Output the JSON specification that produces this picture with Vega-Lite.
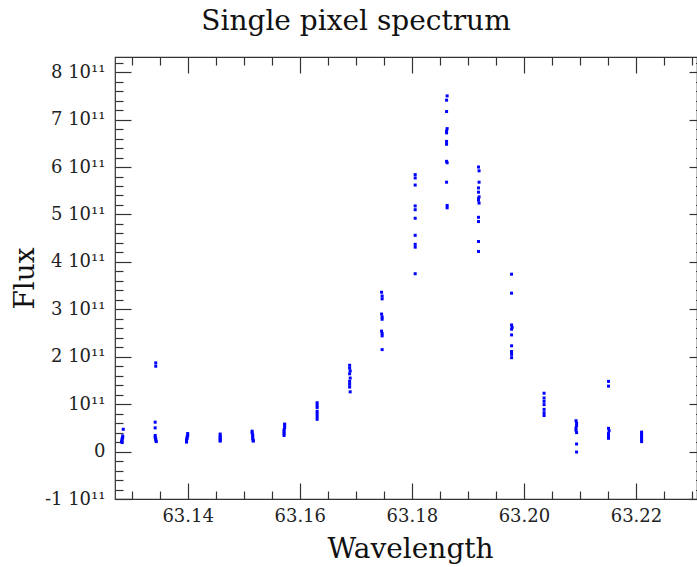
{
  "$schema": "https://vega.github.io/schema/vega-lite/v6.json",
  "width": 582,
  "height": 442,
  "autosize": {"type": "none"},
  "padding": {"left": 115, "top": 57, "right": 0, "bottom": 68},
  "background": "white",
  "title": {"text": "Single pixel spectrum", "fontSize": 28, "font": "DejaVu Serif", "fontWeight": "normal", "color": "#111", "anchor": "middle", "frame": "group", "dx": -50, "dy": 28, "offset": 26, "baseline": "alphabetic"},
  "config": {
    "view": {"stroke": "#333", "strokeWidth": 1.2},
    "font": "DejaVu Serif",
    "axis": {"grid": false, "domain": false, "tickColor": "#333", "tickWidth": 1.2, "labelColor": "#222", "titleColor": "#111", "labelFont": "DejaVu Serif", "titleFont": "DejaVu Serif", "labelFontSize": 18, "titleFontSize": 28, "titleFontWeight": "normal", "labelFlush": false}
  },
  "data": {"values": [
    {"w": 63.1285, "f": 4.7e10}, {"w": 63.1284, "f": 3.3e10}, {"w": 63.1284, "f": 3.0e10}, {"w": 63.1283, "f": 2.7e10}, {"w": 63.1283, "f": 2.4e10}, {"w": 63.1282, "f": 2.1e10}, {"w": 63.1283, "f": 1.9e10},
    {"w": 63.1343, "f": 1.87e11}, {"w": 63.1343, "f": 1.80e11}, {"w": 63.1342, "f": 6.2e10}, {"w": 63.1342, "f": 5.0e10}, {"w": 63.1342, "f": 3.4e10}, {"w": 63.1342, "f": 3.0e10}, {"w": 63.1343, "f": 2.7e10}, {"w": 63.1343, "f": 2.4e10}, {"w": 63.1344, "f": 2.1e10},
    {"w": 63.1400, "f": 3.8e10}, {"w": 63.1400, "f": 3.4e10}, {"w": 63.1399, "f": 3.1e10}, {"w": 63.1399, "f": 2.8e10}, {"w": 63.1398, "f": 2.5e10}, {"w": 63.1398, "f": 2.2e10}, {"w": 63.1398, "f": 2.0e10},
    {"w": 63.1458, "f": 3.7e10}, {"w": 63.1458, "f": 3.3e10}, {"w": 63.1458, "f": 3.0e10}, {"w": 63.1458, "f": 2.7e10}, {"w": 63.1458, "f": 2.4e10}, {"w": 63.1458, "f": 2.2e10},
    {"w": 63.1515, "f": 4.3e10}, {"w": 63.1515, "f": 3.9e10}, {"w": 63.1516, "f": 3.5e10}, {"w": 63.1516, "f": 3.1e10}, {"w": 63.1516, "f": 2.7e10}, {"w": 63.1517, "f": 2.4e10}, {"w": 63.1517, "f": 2.2e10},
    {"w": 63.1573, "f": 5.8e10}, {"w": 63.1573, "f": 5.5e10}, {"w": 63.1573, "f": 5.0e10}, {"w": 63.1572, "f": 4.6e10}, {"w": 63.1572, "f": 4.2e10}, {"w": 63.1572, "f": 3.8e10}, {"w": 63.1572, "f": 3.4e10},
    {"w": 63.1631, "f": 1.03e11}, {"w": 63.1631, "f": 9.8e10}, {"w": 63.1631, "f": 9.3e10}, {"w": 63.1631, "f": 8.5e10}, {"w": 63.1631, "f": 8.0e10}, {"w": 63.1631, "f": 7.4e10}, {"w": 63.1631, "f": 6.8e10},
    {"w": 63.1689, "f": 1.82e11}, {"w": 63.1689, "f": 1.76e11}, {"w": 63.1690, "f": 1.70e11}, {"w": 63.1689, "f": 1.64e11}, {"w": 63.1690, "f": 1.55e11}, {"w": 63.1689, "f": 1.48e11}, {"w": 63.1689, "f": 1.42e11}, {"w": 63.1689, "f": 1.36e11}, {"w": 63.1690, "f": 1.26e11},
    {"w": 63.1746, "f": 3.36e11}, {"w": 63.1747, "f": 3.28e11}, {"w": 63.1747, "f": 3.22e11}, {"w": 63.1746, "f": 2.90e11}, {"w": 63.1747, "f": 2.84e11}, {"w": 63.1747, "f": 2.79e11}, {"w": 63.1746, "f": 2.54e11}, {"w": 63.1747, "f": 2.49e11}, {"w": 63.1747, "f": 2.44e11}, {"w": 63.1747, "f": 2.15e11},
    {"w": 63.1806, "f": 5.84e11}, {"w": 63.1806, "f": 5.77e11}, {"w": 63.1806, "f": 5.62e11}, {"w": 63.1806, "f": 5.18e11}, {"w": 63.1806, "f": 5.10e11}, {"w": 63.1806, "f": 4.92e11}, {"w": 63.1806, "f": 4.56e11}, {"w": 63.1806, "f": 4.37e11}, {"w": 63.1806, "f": 4.31e11}, {"w": 63.1806, "f": 3.75e11},
    {"w": 63.1863, "f": 7.50e11}, {"w": 63.1862, "f": 7.41e11}, {"w": 63.1862, "f": 7.17e11}, {"w": 63.1863, "f": 6.81e11}, {"w": 63.1862, "f": 6.76e11}, {"w": 63.1862, "f": 6.72e11}, {"w": 63.1862, "f": 6.54e11}, {"w": 63.1862, "f": 6.48e11}, {"w": 63.1862, "f": 6.12e11}, {"w": 63.1863, "f": 6.09e11}, {"w": 63.1862, "f": 5.68e11}, {"w": 63.1863, "f": 5.19e11}, {"w": 63.1863, "f": 5.14e11},
    {"w": 63.1919, "f": 6.00e11}, {"w": 63.1920, "f": 5.92e11}, {"w": 63.1920, "f": 5.68e11}, {"w": 63.1919, "f": 5.56e11}, {"w": 63.1919, "f": 5.47e11}, {"w": 63.1920, "f": 5.37e11}, {"w": 63.1919, "f": 5.33e11}, {"w": 63.1919, "f": 5.30e11}, {"w": 63.1920, "f": 5.24e11}, {"w": 63.1919, "f": 4.94e11}, {"w": 63.1919, "f": 4.85e11}, {"w": 63.1919, "f": 4.43e11}, {"w": 63.1919, "f": 4.22e11},
    {"w": 63.1978, "f": 3.74e11}, {"w": 63.1978, "f": 3.34e11}, {"w": 63.1978, "f": 2.67e11}, {"w": 63.1979, "f": 2.62e11}, {"w": 63.1978, "f": 2.58e11}, {"w": 63.1978, "f": 2.46e11}, {"w": 63.1978, "f": 2.23e11}, {"w": 63.1978, "f": 2.11e11}, {"w": 63.1978, "f": 2.05e11}, {"w": 63.1978, "f": 1.98e11},
    {"w": 63.2036, "f": 1.23e11}, {"w": 63.2036, "f": 1.13e11}, {"w": 63.2036, "f": 1.06e11}, {"w": 63.2036, "f": 9.9e10}, {"w": 63.2036, "f": 8.9e10}, {"w": 63.2036, "f": 8.2e10}, {"w": 63.2036, "f": 7.6e10},
    {"w": 63.2093, "f": 6.5e10}, {"w": 63.2094, "f": 6.0e10}, {"w": 63.2094, "f": 5.5e10}, {"w": 63.2093, "f": 5.0e10}, {"w": 63.2093, "f": 4.5e10}, {"w": 63.2094, "f": 4.0e10}, {"w": 63.2094, "f": 1.6e10}, {"w": 63.2094, "f": -1.0e9},
    {"w": 63.2151, "f": 1.48e11}, {"w": 63.2151, "f": 1.38e11}, {"w": 63.2151, "f": 4.9e10}, {"w": 63.2152, "f": 4.4e10}, {"w": 63.2151, "f": 3.8e10}, {"w": 63.2151, "f": 3.3e10}, {"w": 63.2151, "f": 2.8e10},
    {"w": 63.2210, "f": 4.1e10}, {"w": 63.2210, "f": 3.7e10}, {"w": 63.2210, "f": 3.3e10}, {"w": 63.2210, "f": 2.9e10}, {"w": 63.2210, "f": 2.5e10}, {"w": 63.2210, "f": 2.1e10}
  ]},
  "resolve": {"axis": {"x": "independent", "y": "independent"}},
  "layer": [
    {
      "mark": {"type": "square", "size": 9, "filled": true, "color": "#0000ff", "opacity": 1, "strokeWidth": 0},
      "encoding": {
        "x": {"field": "w", "type": "quantitative", "scale": {"domain": [63.12703, 63.23089], "nice": false, "zero": false},
          "axis": {"orient": "bottom", "values": [63.14, 63.16, 63.18, 63.2, 63.22], "format": ".2f", "tickSize": -16, "labelPadding": 24, "title": "Wavelength", "titleX": 295, "titleY": 58, "titleBaseline": "alphabetic", "titleAlign": "center"}},
        "y": {"field": "f", "type": "quantitative", "scale": {"domain": [-1e11, 8.32e11], "nice": false, "zero": false},
          "axis": {"orient": "left", "values": [-1e11, 0, 1e11, 2e11, 3e11, 4e11, 5e11, 6e11, 7e11, 8e11], "labelExpr": "round(datum.value/1e11) == 0 ? '0' : (round(datum.value/1e11) == 1 ? '10¹¹' : round(datum.value/1e11) + ' 10¹¹')", "tickSize": -16, "labelPadding": 26, "title": "Flux", "titleX": -82, "titleBaseline": "alphabetic", "titleAngle": -90}}
      }
    },
    {
      "mark": {"type": "point", "opacity": 0},
      "encoding": {
        "x": {"field": "w", "type": "quantitative", "scale": {"domain": [63.12703, 63.23089], "nice": false, "zero": false},
          "axis": {"orient": "bottom", "values": [63.13, 63.135, 63.145, 63.15, 63.155, 63.165, 63.17, 63.175, 63.185, 63.19, 63.195, 63.205, 63.21, 63.215, 63.225, 63.23], "tickSize": -8, "labels": false, "title": null}},
        "y": {"field": "f", "type": "quantitative", "scale": {"domain": [-1e11, 8.32e11], "nice": false, "zero": false},
          "axis": {"orient": "left", "values": [-8e10, -6e10, -4e10, -2e10, 2e10, 4e10, 6e10, 8e10, 1.2e11, 1.4e11, 1.6e11, 1.8e11, 2.2e11, 2.4e11, 2.6e11, 2.8e11, 3.2e11, 3.4e11, 3.6e11, 3.8e11, 4.2e11, 4.4e11, 4.6e11, 4.8e11, 5.2e11, 5.4e11, 5.6e11, 5.8e11, 6.2e11, 6.4e11, 6.6e11, 6.8e11, 7.2e11, 7.4e11, 7.6e11, 7.8e11, 8.2e11], "tickSize": -8, "labels": false, "title": null}}
      }
    },
    {
      "mark": {"type": "point", "opacity": 0},
      "encoding": {
        "x": {"field": "w", "type": "quantitative", "scale": {"domain": [63.12703, 63.23089], "nice": false, "zero": false},
          "axis": {"orient": "top", "values": [63.14, 63.16, 63.18, 63.2, 63.22], "tickSize": -16, "labels": false, "title": null}},
        "y": {"field": "f", "type": "quantitative", "scale": {"domain": [-1e11, 8.32e11], "nice": false, "zero": false},
          "axis": {"orient": "right", "values": [-1e11, 0, 1e11, 2e11, 3e11, 4e11, 5e11, 6e11, 7e11, 8e11], "tickSize": -8, "labels": false, "title": null}}
      }
    },
    {
      "mark": {"type": "point", "opacity": 0},
      "encoding": {
        "x": {"field": "w", "type": "quantitative", "scale": {"domain": [63.12703, 63.23089], "nice": false, "zero": false},
          "axis": {"orient": "top", "values": [63.13, 63.135, 63.145, 63.15, 63.155, 63.165, 63.17, 63.175, 63.185, 63.19, 63.195, 63.205, 63.21, 63.215, 63.225, 63.23], "tickSize": -8, "labels": false, "title": null}},
        "y": {"field": "f", "type": "quantitative", "scale": {"domain": [-1e11, 8.32e11], "nice": false, "zero": false},
          "axis": {"orient": "right", "values": [-8e10, -6e10, -4e10, -2e10, 2e10, 4e10, 6e10, 8e10, 1.2e11, 1.4e11, 1.6e11, 1.8e11, 2.2e11, 2.4e11, 2.6e11, 2.8e11, 3.2e11, 3.4e11, 3.6e11, 3.8e11, 4.2e11, 4.4e11, 4.6e11, 4.8e11, 5.2e11, 5.4e11, 5.6e11, 5.8e11, 6.2e11, 6.4e11, 6.6e11, 6.8e11, 7.2e11, 7.4e11, 7.6e11, 7.8e11, 8.2e11], "tickSize": -1.5, "labels": false, "title": null}}
      }
    }
  ]
}
